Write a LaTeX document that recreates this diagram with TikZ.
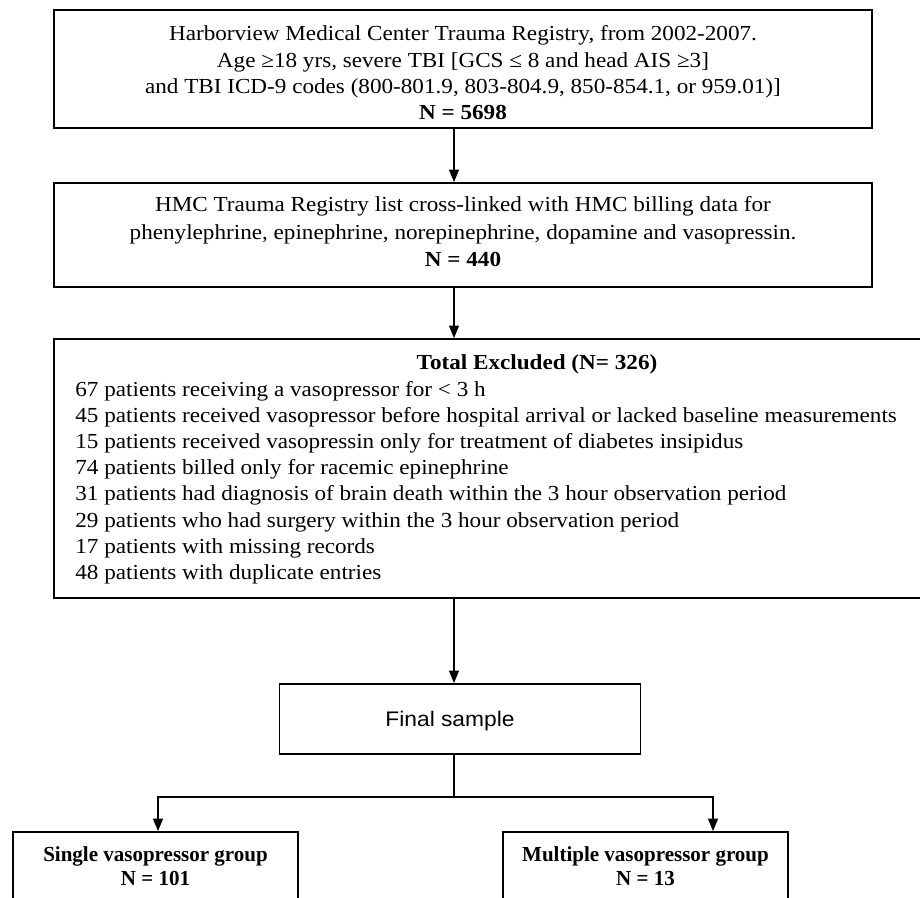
\documentclass[tikz,border=0pt]{standalone}
\usepackage{fontspec}
\setmainfont{Liberation Serif}[FakeStretch=1.08]
\newfontfamily\finalfont{Liberation Sans}[FakeStretch=1.08]
\newfontfamily\groupfont{Liberation Serif}[FakeStretch=0.98]
\usetikzlibrary{arrows.meta,positioning}

\tikzset{
	stepbox/.style={draw, line width=1.05pt, inner sep=0pt, align=center, font=\fontsize{12.2}{15}\selectfont},
	groupbox/.style={stepbox, font=\fontsize{12.2}{13.6}\groupfont\bfseries, minimum width=5.7cm, minimum height=1.36cm},
	flow/.style={line width=0.75pt, -{Triangle[length=0.25cm, width=0.2cm]}},
	plain/.style={line width=0.75pt}
}

\begin{document}
\begin{tikzpicture}[x=0.02cm, y=-0.02cm]
		\useasboundingbox [fill=white] (0,0) rectangle (920,897);
		\coordinate (axis) at (454,0);
		\node [stepbox, minimum width=16.36cm, minimum height=2.36cm](registry) at (463,69) {\rule{0pt}{13pt}Harborview Medical Center Trauma Registry, from 2002-2007.\\ Age ≥18 yrs, severe TBI [GCS ≤ 8 and head AIS ≥3]\\ and TBI ICD-9 codes (800-801.9, 803-804.9, 850-854.1, or 959.01)]\\ \textbf{N = 5698}};
		\node [stepbox, font=\fontsize{12.2}{15.6}\selectfont, minimum width=16.36cm, minimum height=2.08cm](billing) at (463,235) {HMC Trauma Registry list cross-linked with HMC billing data for\\ phenylephrine, epinephrine, norepinephrine, dopamine and vasopressin.\\ \textbf{N = 440}\rule[-4pt]{0pt}{0pt}};
		\node [stepbox, minimum width=17.62cm, minimum height=5.18cm](excluded) at (494.5,468.5) {};
		\node [font=\fontsize{12.2}{15}\selectfont\bfseries, inner sep=0pt](excl_title) at (537,364) {Total Excluded (N= 326)};
		\node [font=\fontsize{12.2}{14.9}\selectfont, align=left, anchor=west, inner sep=0pt](excl_list) at (75,482.5) {67 patients receiving a vasopressor for < 3 h\\
			45 patients received vasopressor before hospital arrival or lacked baseline measurements\\
			15 patients received vasopressin only for treatment of diabetes insipidus\\
			74 patients billed only for racemic epinephrine\\
			31 patients had diagnosis of brain death within the 3 hour observation period\\
			29 patients who had surgery within the 3 hour observation period\\
			17 patients with missing records\\
			48 patients with duplicate entries};
		\node [stepbox, font=\fontsize{12}{15}\finalfont, minimum width=7.22cm, minimum height=1.4cm](final) at (460,719) {\rule{0pt}{11pt}Final sample\hspace*{0.4cm}};
		\node [groupbox](single) at (155.5,866) {Single vasopressor group\\ N = 101};
		\node [groupbox](multiple) at (645.5,866) {Multiple vasopressor group\\ N = 13};
		\coordinate (split) at (454,797);
		\coordinate (ljoin) at (158,797);
		\coordinate (rjoin) at (713,797);
		\draw [flow] (registry.south -| axis) -- (billing.north -| axis);
		\draw [flow] (billing.south -| axis) -- (excluded.north -| axis);
		\draw [flow] (excluded.south -| axis) -- (final.north -| axis);
		\draw [plain] (final.south -| axis) -- (split);
		\draw [flow] (split) -| (ljoin |- single.north);
		\draw [flow] (split) -| (rjoin |- multiple.north);
		\end{tikzpicture}
\end{document}
